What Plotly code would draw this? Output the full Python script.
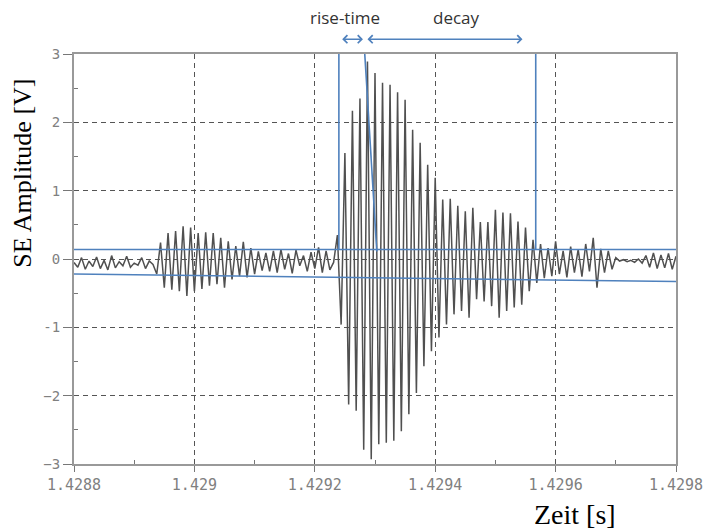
import numpy as np
import plotly.graph_objects as go

# ---------------- data ----------------
t_start = 1.4288          # s, first sample
sample_interval = 6.25e-6 # s

amplitude = [
    -0.05, -0.12, 0.02, -0.15, -0.03, -0.11, 0.03, -0.14, -0.02, -0.16,
    0.05, -0.13, -0.04, -0.10, 0.04, -0.12, -0.06, -0.09, 0.02, -0.14,
    -0.03, -0.08, -0.22, 0.24, -0.42, 0.38, -0.45, 0.41, -0.47, 0.48,
    -0.54, 0.46, -0.47, 0.38, -0.44, 0.39, -0.39, 0.38, -0.37, 0.31,
    -0.42, 0.26, -0.30, 0.19, -0.25, 0.25, -0.27, 0.16, -0.22, 0.11,
    -0.17, 0.09, -0.18, 0.12, -0.20, 0.14, -0.15, 0.08, -0.21, 0.13,
    -0.10, 0.05, -0.18, 0.10, -0.14, 0.17, -0.20, 0.12, -0.16, -0.05,
    0.35, -0.96, 1.55, -2.13, 2.17, -2.22, 2.35, -2.79, 2.89, -2.93,
    2.72, -2.71, 2.58, -2.69, 2.55, -2.66, 2.44, -2.52, 2.33, -2.27,
    1.89, -1.96, 1.70, -1.57, 1.38, -1.35, 1.19, -1.15, 0.87, -0.96,
    0.88, -0.81, 0.78, -0.76, 0.70, -0.86, 0.75, -0.59, 0.54, -0.62,
    0.54, -0.69, 0.72, -0.86, 0.68, -0.76, 0.67, -0.71, 0.55, -0.67,
    0.46, -0.47, 0.28, -0.35, 0.22, -0.28, 0.16, -0.25, 0.26, -0.22,
    0.12, -0.27, 0.18, -0.20, 0.14, -0.26, 0.22, -0.18, 0.31, -0.42,
    0.15, -0.20, 0.12, -0.15, 0.02, -0.03, -0.01, -0.04, -0.02, -0.05,
    0.00, -0.06, 0.05, -0.12, 0.09, -0.14, 0.06, -0.13, 0.08, -0.15,
    0.04,
]

# threshold / marker lines (time, amplitude)
upper_thr_t = [1.4288, 1.4298]
upper_thr_v = [0.14, 0.14]
lower_thr_t = [1.4288, 1.4298]
lower_thr_v = [-0.22, -0.33]
onset_t = [1.42924, 1.42924]
onset_v = [0.14, 3.0]
peak_t = [1.429283, 1.429303]
peak_v = [3.0, 0.11]
end_t = [1.429567, 1.429567]
end_v = [0.14, 3.0]

x_tickvals = [1.4288, 1.4290, 1.4292, 1.4294, 1.4296, 1.4298]
x_ticktext = ["1.4288", "1.429", "1.4292", "1.4294", "1.4296", "1.4298"]
x_minor = [1.4289, 1.4291, 1.4293, 1.4295, 1.4297]
y_tickvals = [-3, -2, -1, 0, 1, 2, 3]
y_ticktext = ["−3", "−2", "-1", "0", "1", "2", "3"]
y_minor = [-2.5, -1.5, -0.5, 0.5, 1.5, 2.5]

t = t_start + np.arange(len(amplitude)) * sample_interval

BLUE = "#4f81bd"

fig = go.Figure()
fig.add_trace(go.Scatter(x=t, y=amplitude, mode="lines",
                         line=dict(color="#505050", width=1.5), showlegend=False))
for xs, ys in [(upper_thr_t, upper_thr_v), (lower_thr_t, lower_thr_v),
               (onset_t, onset_v), (peak_t, peak_v), (end_t, end_v)]:
    fig.add_trace(go.Scatter(x=xs, y=ys, mode="lines",
                             line=dict(color=BLUE, width=1.6), showlegend=False))

tickfont_x = dict(family="DejaVu Sans Mono", size=15, color="#808080")
tickfont_y = dict(family="DejaVu Sans Mono", size=14, color="#808080")

fig.update_xaxes(
    range=[1.4288, 1.4298], tickmode="array", tickvals=x_tickvals, ticktext=x_ticktext,
    tickfont=tickfont_x, ticks="outside", ticklen=6, tickcolor="#777777",
    showgrid=True, gridcolor="#555555", griddash="5px,4px", gridwidth=1,
    showline=True, linecolor="#999999", linewidth=2, mirror=True, zeroline=False,
    automargin=False,
    minor=dict(tickmode="array", tickvals=x_minor, ticks="inside", ticklen=4,
               tickcolor="#777777", showgrid=False),
)
fig.update_yaxes(
    range=[-3, 3], tickmode="array", tickvals=y_tickvals, ticktext=y_ticktext,
    tickfont=tickfont_y, ticks="outside", ticklen=9, tickcolor="#777777",
    showgrid=True, gridcolor="#555555", griddash="5px,4px", gridwidth=1,
    showline=True, linecolor="#999999", linewidth=2, mirror=True, zeroline=False,
    automargin=False,
    minor=dict(tickmode="array", tickvals=y_minor, ticks="inside", ticklen=4,
               tickcolor="#777777", showgrid=False),
)

annotations = [
    # axis titles
    dict(text="SE Amplitude [V]", xref="paper", yref="paper", x=-0.085, y=0.71,
         textangle=-90, showarrow=False, xanchor="center", yanchor="middle",
         font=dict(family="Liberation Serif", size=26, color="#000000")),
    dict(text="Zeit [s]", xref="paper", yref="paper", x=0.832, y=-0.122,
         showarrow=False, xanchor="center", yanchor="middle",
         font=dict(family="Liberation Serif", size=28, color="#000000")),
    # phase labels
    dict(text="rise-time", xref="x", yref="paper", x=1.42925, y=1.090, showarrow=False,
         xanchor="center", yanchor="middle",
         font=dict(family="Open Sans", size=17, color="#333333")),
    dict(text="decay", xref="x", yref="paper", x=1.429436, y=1.090, showarrow=False,
         xanchor="center", yanchor="middle",
         font=dict(family="Open Sans", size=17, color="#333333")),
    # double arrows
    dict(text="", xref="x", yref="paper", axref="x", ayref="pixel",
         x=1.429280, y=1.036, ax=1.429243, ay=0, showarrow=True,
         arrowside="end+start", arrowhead=4, arrowsize=1.1, arrowwidth=1.4,
         arrowcolor=BLUE, standoff=0, startstandoff=0),
    dict(text="", xref="x", yref="paper", axref="x", ayref="pixel",
         x=1.429545, y=1.036, ax=1.429285, ay=0, showarrow=True,
         arrowside="end+start", arrowhead=4, arrowsize=1.1, arrowwidth=1.4,
         arrowcolor=BLUE, standoff=0, startstandoff=0),
]

fig.update_layout(
    width=705, height=531,
    margin=dict(l=74, r=29, t=54, b=67, autoexpand=False),
    paper_bgcolor="white", plot_bgcolor="white",
    annotations=annotations,
    showlegend=False,
)

# remove the default 8 px page margin so the figure fills the window exactly
fig.write_html("out.html",
               config={"displayModeBar": False},
               post_script="document.body.style.margin='0px';document.body.style.overflow='hidden';")
